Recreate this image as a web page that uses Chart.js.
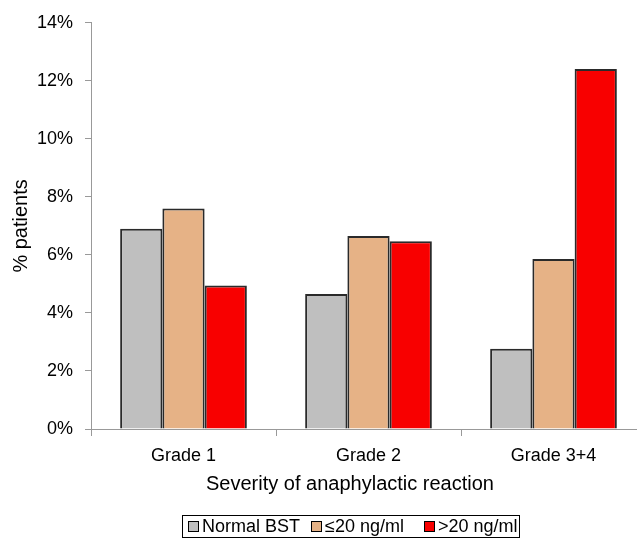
<!DOCTYPE html>
<html>
<head>
<meta charset="utf-8">
<script src="https://cdn.jsdelivr.net/npm/chart.js@4"></script>
<style>
  body { margin: 0; background: #fff; font-family: "Liberation Sans", Arial, sans-serif; }
  #wrap { position: relative; width: 637px; height: 539px; overflow: hidden; }
  #chart { position: absolute; left: 0; top: 0; }
  #xtitle { position: absolute; left: 150px; width: 400px; top: 472px; text-align: center; font-size: 20px; color: #000; }
  #legend { position: absolute; left: 182px; top: 515px; width: 336px; height: 21px; border: 1px solid #000;
            font-size: 18px; line-height: 21px; color: #000; white-space: nowrap; }
  #legend span.sw { display: inline-block; width: 9px; height: 9px; border: 1px solid #000; vertical-align: 0px; margin-right: 3px; }
  #legend span.item { position: absolute; top: 0; }
</style>
</head>
<body>
<div id="wrap">
  <canvas id="chart" width="646" height="539"></canvas>
  <div id="xtitle">Severity of anaphylactic reaction</div>
  <div id="legend"></div>
</div>
<script>
// values (% of patients)
var categories = ['Grade 1', 'Grade 2', 'Grade 3+4'];
var seriesNames = ['Normal BST', '\u226420 ng/ml', '>20 ng/ml'];
var normalBst = [6.9, 4.65, 2.77];
var upTo20 = [7.6, 6.65, 5.86];
var over20 = [4.95, 6.47, 12.41];
var yMax = 14;
var yStep = 2;

var colors = ['#bfbfbf', '#e6b286', '#f80000'];
var legendX = [5, 128, 241];

// html legend
var legend = document.getElementById('legend');
seriesNames.forEach(function(name, i) {
    var item = document.createElement('span');
    item.className = 'item';
    item.style.left = legendX[i] + 'px';
    var sw = document.createElement('span');
    sw.className = 'sw';
    sw.style.background = colors[i];
    item.appendChild(sw);
    item.appendChild(document.createTextNode(name));
    legend.appendChild(item);
});

var ctx = document.getElementById('chart').getContext('2d');
var myChart = new Chart(ctx, {
    type: 'bar',
    data: {
        labels: categories,
        datasets: [{
            label: seriesNames[0],
            data: normalBst,
            backgroundColor: colors[0]
        }, {
            label: seriesNames[1],
            data: upTo20,
            backgroundColor: colors[1]
        }, {
            label: seriesNames[2],
            data: over20,
            backgroundColor: colors[2]
        }]
    },
    options: {
        responsive: false,
        animation: false,
        layout: { padding: { top: 21, left: 0, right: 0, bottom: 0 } },
        datasets: {
            bar: {
                borderColor: '#2a2a2a',
                borderWidth: 2,
                barPercentage: 1,
                categoryPercentage: 0.685
            }
        },
        plugins: {
            legend: { display: false },
            tooltip: { enabled: false }
        },
        scales: {
            x: {
                afterFit: function(scale) { scale.height = 110; },
                grid: { offset: true, drawOnChartArea: false, tickLength: 7, color: '#999' },
                border: { color: '#999' },
                ticks: { color: '#000', padding: 9, font: { family: 'Liberation Sans', size: 18 } }
            },
            y: {
                min: 0,
                max: yMax,
                afterFit: function(scale) { scale.width = 91; },
                grid: { drawOnChartArea: false, tickLength: 6, color: '#999' },
                border: { color: '#999' },
                ticks: {
                    stepSize: yStep,
                    color: '#000',
                    padding: 12,
                    font: { family: 'Liberation Sans', size: 18 },
                    callback: function(v) { return v + '%'; }
                },
                title: {
                    display: true,
                    text: '% patients',
                    color: '#000',
                    padding: { top: 9, bottom: 0 },
                    font: { family: 'Liberation Sans', size: 20 }
                }
            }
        }
    }
});
</script>
</body>
</html>
